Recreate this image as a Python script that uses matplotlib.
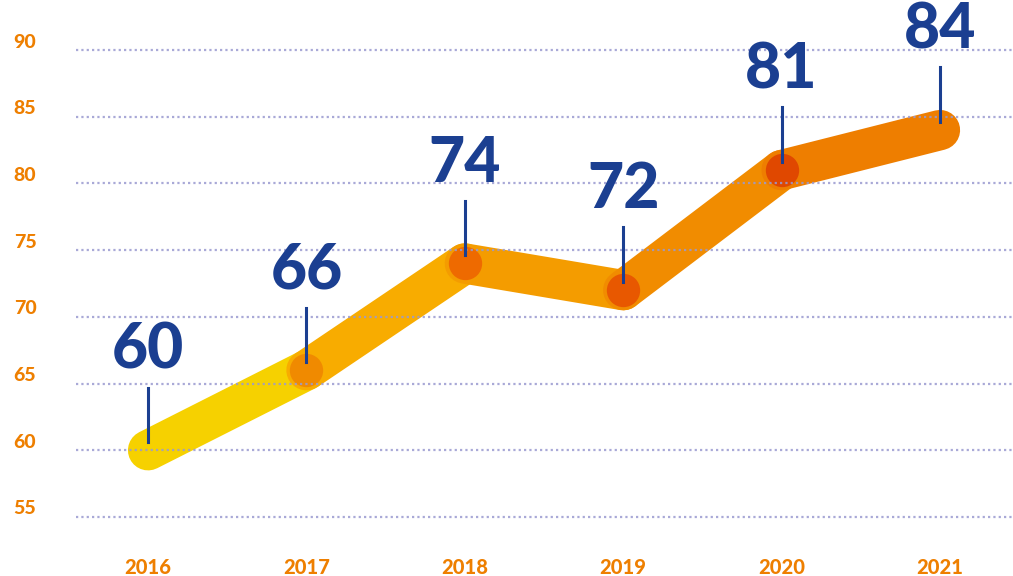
import matplotlib
matplotlib.use("Agg")
import matplotlib.pyplot as plt
from matplotlib import transforms

# data
years = [2016, 2017, 2018, 2019, 2020, 2021]
values = [60, 66, 74, 72, 81, 84]
seg_colors = ['#F6D100', '#F8AC00', '#F49C00', '#F18C00', '#EE7E00']
dot_colors = [None, '#F08A00', '#EE6A00', '#E85800', '#E04800', None]
yticks = [55, 60, 65, 70, 75, 80, 85, 90]

blue = '#1B3F91'
orange = '#EE7F00'

plt.rcParams['font.family'] = ['Lato', 'DejaVu Sans']

fig = plt.figure(figsize=(10.13, 5.76), dpi=100)
ax = fig.add_axes([76 / 1013, 19 / 576, 937 / 1013, 547 / 576])
ax.set_xlim(2015.545, 2021.461)
ax.set_ylim(52, 93)

# thick coloured segments
for i in range(len(years) - 1):
    ax.plot(years[i:i + 2], values[i:i + 2], color=seg_colors[i], lw=29,
            solid_capstyle='round', zorder=2 + i)
# markers on the joints
for x, v, c in zip(years, values, dot_colors):
    if c:
        ax.plot(x, v, 'o', ms=24, color=c, mec='none', zorder=10)

# grid drawn on top
for t in yticks:
    ax.axhline(t, color='#9A9AD0', lw=1.6, ls=(0, (1, 1.4)), alpha=0.85, zorder=12)

# value labels with little stems
for x, v in zip(years, values):
    ax.plot([x, x], [v + 0.6, v + 4.7], color=blue, lw=2.2, zorder=13)
    ax.text(x, v + 5.3, str(v), color=blue, fontsize=45, fontweight='black',
            ha='center', va='bottom', zorder=14)

# axis labels
trans_y = transforms.blended_transform_factory(fig.transFigure, ax.transData)
for t in yticks:
    ax.text(25 / 1013, t + 0.6, str(t), transform=trans_y, color=orange,
            fontsize=14, fontweight='black', ha='center', va='center')
trans_x = transforms.blended_transform_factory(ax.transData, fig.transFigure)
for x in years:
    ax.text(x, 8 / 576, str(x), transform=trans_x, color=orange,
            fontsize=14.5, fontweight='black', ha='center', va='center')

ax.set_axis_off()
fig.savefig("out.png", dpi=100)
